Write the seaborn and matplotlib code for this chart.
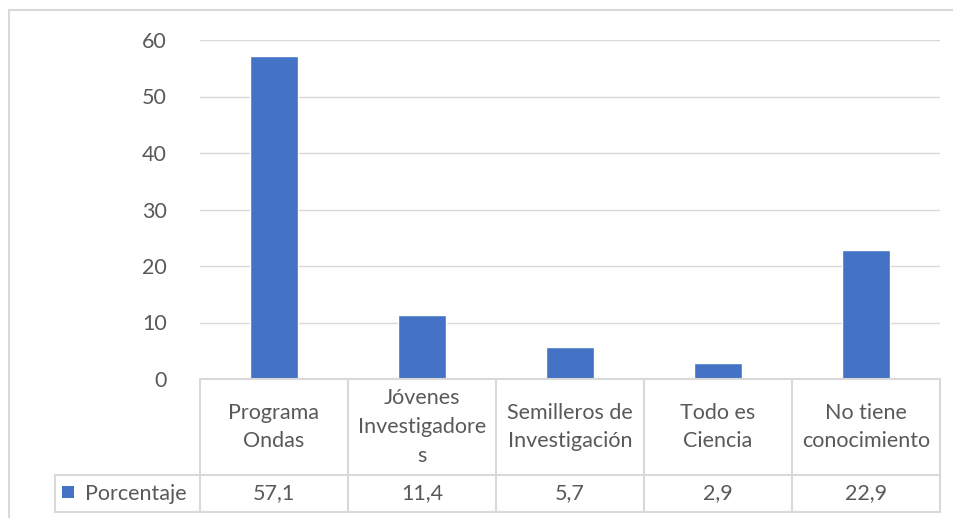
import matplotlib
matplotlib.use("Agg")
import matplotlib.pyplot as plt
import matplotlib.transforms as mtransforms
from matplotlib.lines import Line2D
from matplotlib.patches import Rectangle
import seaborn as sns
import pandas as pd

categories = ["Programa\nOndas", "Jóvenes\nInvestigadore\ns", "Semilleros de\nInvestigación",
              "Todo es\nCiencia", "No tiene\nconocimiento"]
values = [57.1, 11.4, 5.7, 2.9, 22.9]
value_labels = ["57,1", "11,4", "5,7", "2,9", "22,9"]
series_name = "Porcentaje"
yticks = [0, 10, 20, 30, 40, 50, 60]

sns.set_theme(style="white")
plt.rcParams['font.family'] = ['Lato', 'DejaVu Sans']

FS = 15.5
W, H = 954, 518
fig = plt.figure(figsize=(W / 100, H / 100), dpi=100)
ax = fig.add_axes([200 / W, 1 - 379 / H, 740 / W, (379 - 40) / H])

df = pd.DataFrame({"cat": categories, "val": values})
sns.barplot(data=df, x="cat", y="val", color="#4472C4", width=0.32, saturation=1, ax=ax)

ax.set_xlim(-0.5, len(categories) - 0.5)
ax.set_ylim(0, 60)
ax.set_yticks(yticks)
ax.set_yticklabels([str(t) for t in yticks], fontsize=FS, color="#595959")
ax.tick_params(axis="y", length=0, pad=24)
ax.set_xticks([])
ax.set_xlabel("")
ax.set_ylabel("")
ax.grid(axis="y", color="#d9d9d9", lw=1)
ax.set_axisbelow(True)
for s in ax.spines.values():
    s.set_visible(False)

grey = "#d9d9d9"
txtc = "#595959"
trans = mtransforms.blended_transform_factory(ax.transData, ax.transAxes)
axh = 379 - 40
y0 = 0.0
y1 = -(475 - 379) / axh
y2 = -(512 - 379) / axh
n = len(categories)
# horizontal lines of the data table
ax.add_line(Line2D([-0.5, n - 0.5], [y0, y0], transform=trans, color=grey, lw=1.5, clip_on=False))
leg_left = -0.5 - 145 / 148
ax.add_line(Line2D([leg_left, n - 0.5], [y1, y1], transform=trans, color=grey, lw=1.5, clip_on=False))
ax.add_line(Line2D([leg_left, n - 0.5], [y2, y2], transform=trans, color=grey, lw=1.5, clip_on=False))
ax.add_line(Line2D([leg_left, leg_left], [y1, y2], transform=trans, color=grey, lw=1.5, clip_on=False))
for i in range(n + 1):
    ax.add_line(Line2D([i - 0.5, i - 0.5], [y0, y2], transform=trans, color=grey, lw=1.5, clip_on=False))

for i, (c, v) in enumerate(zip(categories, value_labels)):
    ax.text(i, (y0 + y1) / 2, c, transform=trans, ha="center", va="center",
            fontsize=FS, color=txtc, linespacing=1.55)
    ax.text(i, (y1 + y2) / 2, v, transform=trans, ha="center", va="center",
            fontsize=FS, color=txtc)

# legend key in the table
fig.add_artist(Rectangle((62 / W, 1 - 498 / H), 12 / W, 12 / H, transform=fig.transFigure,
                         facecolor="#4472C4", edgecolor="none"))
fig.text(85 / W, 1 - 493.5 / H, series_name, ha="left", va="center", fontsize=FS, color=txtc)

# outer chart border
fig.add_artist(Rectangle((9 / W, -0.1), 1.1, 1 - 10 / H + 0.1, transform=fig.transFigure,
                         facecolor="none", edgecolor=grey, lw=1.5))

fig.savefig("out.png", dpi=100)
